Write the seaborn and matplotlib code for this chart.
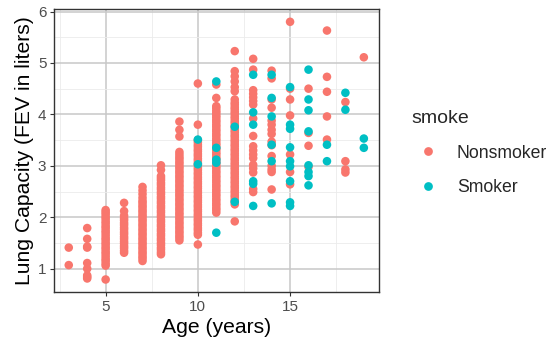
import pandas as pd
import seaborn as sns
import matplotlib.pyplot as plt
from matplotlib.lines import Line2D
from matplotlib.ticker import MultipleLocator

# FEV values, by age
nonsmoker = {
    3: [1.07, 1.41],
    4: [0.81, 0.84, 0.87, 1.00, 1.11, 1.41, 1.43, 1.58, 1.79],
    5: [0.79, 1.06, 1.10, 1.15, 1.19, 1.24, 1.29, 1.33, 1.38, 1.42, 1.47, 1.51, 1.56, 1.60,
        1.65, 1.70, 1.74, 1.79, 1.83, 1.88, 1.92, 1.97, 2.01, 2.06, 2.10, 2.14],
    6: [1.31, 1.35, 1.40, 1.44, 1.49, 1.53, 1.58, 1.62, 1.67, 1.71, 1.76, 1.80, 1.85, 1.89,
        1.94, 1.98, 2.03, 2.12, 2.28],
    7: [1.15, 1.20, 1.24, 1.29, 1.33, 1.38, 1.42, 1.47, 1.51, 1.56, 1.60, 1.65, 1.69, 1.74,
        1.78, 1.83, 1.87, 1.92, 1.96, 2.01, 2.05, 2.10, 2.14, 2.19, 2.23, 2.28, 2.32, 2.38,
        2.45, 2.52, 2.59],
    8: [1.28, 1.32, 1.37, 1.41, 1.46, 1.50, 1.55, 1.59, 1.64, 1.68, 1.73, 1.77, 1.82, 1.86,
        1.91, 1.95, 2.00, 2.04, 2.09, 2.13, 2.18, 2.22, 2.27, 2.31, 2.36, 2.40, 2.45, 2.49,
        2.54, 2.58, 2.63, 2.67, 2.72, 2.76, 2.80, 2.92, 3.01],
    9: [1.55, 1.60, 1.64, 1.69, 1.73, 1.78, 1.82, 1.87, 1.91, 1.96, 2.00, 2.05, 2.09, 2.14,
        2.18, 2.23, 2.27, 2.32, 2.36, 2.41, 2.45, 2.50, 2.54, 2.59, 2.63, 2.68, 2.72, 2.77,
        2.81, 2.86, 2.90, 2.95, 2.99, 3.04, 3.08, 3.13, 3.17, 3.22, 3.27, 3.57, 3.70, 3.86],
    10: [1.47, 1.66, 1.70, 1.75, 1.79, 1.84, 1.88, 1.93, 1.97, 2.02, 2.06, 2.11, 2.15, 2.20,
         2.24, 2.29, 2.33, 2.38, 2.42, 2.47, 2.51, 2.56, 2.60, 2.65, 2.69, 2.74, 2.78, 2.83,
         2.87, 2.92, 2.96, 3.01, 3.05, 3.10, 3.14, 3.19, 3.23, 3.28, 3.32, 3.37, 3.41, 3.46,
         3.50, 3.80, 4.60],
    11: [2.09, 2.14, 2.18, 2.23, 2.27, 2.32, 2.36, 2.41, 2.45, 2.50, 2.54, 2.59, 2.63, 2.68,
         2.72, 2.77, 2.81, 2.86, 2.90, 2.95, 2.99, 3.04, 3.08, 3.13, 3.17, 3.22, 3.26, 3.31,
         3.35, 3.40, 3.44, 3.49, 3.53, 3.58, 3.62, 3.67, 3.71, 3.76, 3.80, 3.85, 3.89, 3.94,
         3.98, 4.03, 4.07, 4.12, 4.16, 4.32, 4.58],
    12: [1.92, 2.25, 2.30, 2.34, 2.39, 2.43, 2.48, 2.52, 2.57, 2.61, 2.66, 2.70, 2.75, 2.79,
         2.84, 2.88, 2.93, 2.97, 3.02, 3.06, 3.11, 3.15, 3.20, 3.24, 3.29, 3.33, 3.38, 3.42,
         3.47, 3.51, 3.56, 3.60, 3.65, 3.69, 3.74, 3.78, 3.83, 3.87, 3.92, 3.96, 4.01, 4.05,
         4.10, 4.14, 4.19, 4.23, 4.29, 4.45, 4.53, 4.64, 4.74, 4.84, 5.23],
    13: [2.49, 2.55, 2.87, 2.95, 3.02, 3.15, 3.22, 3.30, 3.38, 3.58, 3.92, 4.19, 4.26, 4.33,
         4.40, 4.47, 4.87, 5.08],
    14: [2.54, 2.88, 2.93, 3.00, 3.19, 3.40, 3.47, 3.62, 3.70, 3.80, 3.88, 4.13, 4.29, 4.70,
         4.85],
    15: [2.64, 2.88, 3.22, 3.98, 4.29, 4.50, 5.80],
    16: [2.98, 3.39, 3.64, 4.50],
    17: [3.51, 3.96, 4.44, 4.73, 5.63],
    18: [2.87, 2.93, 3.09, 4.24],
    19: [5.11],
}
smoker = {
    10: [3.03, 3.51],
    11: [1.70, 3.06, 3.12, 3.35, 4.64],
    12: [2.30, 3.76],
    13: [2.22, 2.65, 2.70, 3.80, 4.04, 4.77],
    14: [2.27, 3.09, 3.41, 3.96, 4.32, 4.77],
    15: [2.22, 2.29, 2.70, 2.99, 3.09, 3.36, 3.72, 3.80, 4.53],
    16: [2.62, 2.80, 2.88, 3.01, 3.67, 4.08, 4.29, 4.87],
    17: [3.09, 3.41],
    18: [4.09, 4.42],
    19: [3.35, 3.53],
}

rows = []
for label, groups in [('Nonsmoker', nonsmoker), ('Smoker', smoker)]:
    for age, vals in groups.items():
        for v in vals:
            rows.append({'age': age, 'fev': v, 'smoke': label})
df = pd.DataFrame(rows)

colors = {'Nonsmoker': '#F8766D', 'Smoker': '#00BFC4'}

sns.set_style('white')
plt.rcParams['font.family'] = ['Liberation Sans', 'DejaVu Sans']

fig = plt.figure(figsize=(5.47, 3.43), dpi=100)
ax = fig.add_axes([54 / 547, 1 - 292.3 / 343, (378.6 - 54) / 547, (292.3 - 9.3) / 343])

sns.scatterplot(data=df, x='age', y='fev', hue='smoke', palette=colors,
                s=38, linewidth=0, alpha=1, legend=False, ax=ax, zorder=3)

ax.set_xlim(2.2, 19.8)
ax.set_ylim(0.541, 6.043)
ax.xaxis.set_major_locator(MultipleLocator(5))
ax.xaxis.set_minor_locator(MultipleLocator(2.5))
ax.yaxis.set_major_locator(MultipleLocator(1))
ax.yaxis.set_minor_locator(MultipleLocator(0.5))
ax.grid(which='major', color='#C8C8C8', linewidth=1.1, zorder=0)
ax.grid(which='minor', color='#EBEBEB', linewidth=0.6, zorder=0)
ax.set_axisbelow(True)
for sp in ax.spines.values():
    sp.set_color('#333333')
    sp.set_linewidth(1.0)
ax.tick_params(which='major', length=3, width=0.8, color='#333333',
               labelcolor='#4D4D4D', labelsize=11, pad=2.5, left=True, bottom=True)
ax.tick_params(which='minor', length=0)

ax.set_xlabel('Age (years)', fontsize=15.2, color='black', labelpad=3)
ax.set_ylabel('Lung Capacity (FEV in liters)', fontsize=15.2, color='black', labelpad=3)

handles = [Line2D([], [], marker='o', linestyle='', markersize=6.3,
                  markerfacecolor=colors[k], markeredgewidth=0) for k in colors]
leg = fig.legend(handles, list(colors), title='smoke', loc='upper left',
                 bbox_to_anchor=(411 / 547, 1 - 110 / 343), frameon=False,
                 fontsize=12.7, title_fontsize=14, handlelength=1.9,
                 handletextpad=0.7, labelspacing=1.0, borderpad=0, borderaxespad=0,
                 alignment='left')

fig.savefig('out.png', dpi=100)
